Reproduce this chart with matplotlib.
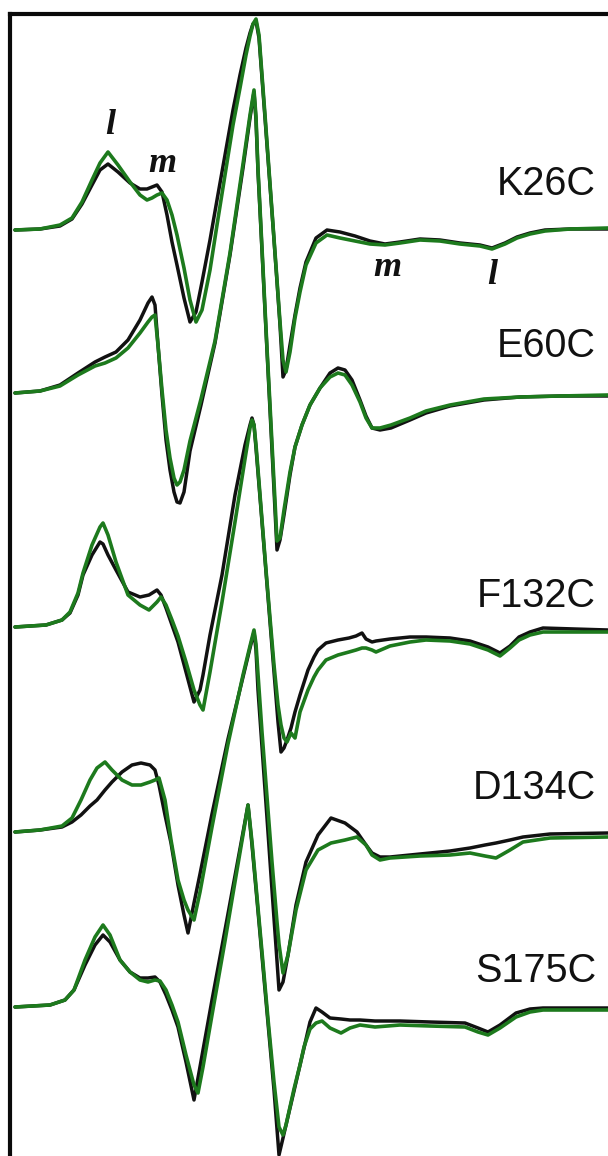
import matplotlib
matplotlib.use("Agg")
import matplotlib.pyplot as plt

# EPR spectra of spin-labelled cysteine mutants (first-derivative, a.u.)
# black = reference condition, green = second condition

K26C_FIELD = [3303.0, 3308.0, 3312.0, 3314.4, 3316.4, 3318.4, 3320.0, 3321.6, 3323.6, 3326.0,
              3328.0, 3329.4, 3330.4, 3331.4, 3332.4, 3333.4, 3334.4, 3335.4, 3336.8, 3338.0,
              3339.2, 3340.4, 3342.0, 3343.4, 3345.0, 3346.6, 3348.0, 3349.2, 3350.0, 3350.6,
              3351.2, 3351.8, 3352.4, 3353.0, 3353.8, 3354.6, 3355.4, 3356.0, 3356.6, 3357.2,
              3358.0, 3359.0, 3360.0, 3361.2, 3363.2, 3365.4, 3368.0, 3371.0, 3374.0, 3377.0,
              3380.0, 3384.0, 3388.0, 3392.0, 3396.0, 3398.4, 3401.0, 3403.4, 3406.0, 3409.0,
              3414.0, 3421.6]
K26C_BLACK = [0, 1, 4, 11, 26, 45, 60, 66, 58, 47,
              41, 41, 43, 45, 38, 15, -12, -35, -68, -92,
              -82, -52, -10, 30, 75, 120, 155, 182, 197, 206,
              209, 192, 152, 112, 58, 4, -52, -95, -147, -140,
              -115, -85, -58, -32, -8, 0, -2, -6, -11, -14,
              -12, -9, -10, -13, -15, -18, -13, -7, -3, 0,
              1, 1]
K26C_GREEN = [0, 1, 5, 12, 28, 50, 67, 78, 65, 48,
              35, 30, 32, 35, 37, 30, 15, -5, -38, -70,
              -92, -80, -40, 5, 55, 105, 142, 175, 194, 206,
              211, 195, 155, 115, 60, 5, -50, -92, -130, -142,
              -122, -88, -62, -35, -13, -5, -8, -11, -14, -15,
              -13, -10, -11, -14, -16, -19, -14, -8, -4, -1,
              1, 2]

E60C_FIELD = [3303.0, 3308.0, 3312.0, 3315.6, 3319.0, 3321.0, 3323.2, 3325.6, 3328.0, 3329.6,
              3330.4, 3331.0, 3331.6, 3332.4, 3333.2, 3334.0, 3334.8, 3335.4, 3336.0, 3336.8,
              3338.0, 3340.2, 3343.0, 3346.0, 3348.6, 3350.0, 3350.8, 3351.2, 3351.6, 3352.0,
              3352.4, 3352.8, 3353.4, 3354.0, 3354.6, 3355.0, 3355.4, 3356.0, 3356.8, 3358.0,
              3359.0, 3360.4, 3362.0, 3364.0, 3366.0, 3367.6, 3369.0, 3370.4, 3372.0, 3373.2,
              3374.4, 3376.0, 3378.2, 3382.0, 3385.2, 3390.0, 3396.8, 3404.0, 3412.0, 3421.6]
E60C_BLACK = [0, 2, 8, 20, 31, 36, 41, 53, 73, 90,
              96, 88, 48, -2, -47, -77, -99, -109, -110, -99,
              -58, -12, 50, 138, 225, 275, 301, 273, 221, 182,
              142, 102, 42, -17, -77, -117, -157, -147, -122, -82,
              -54, -32, -12, 5, 20, 25, 23, 13, -7, -23,
              -35, -37, -35, -27, -20, -13, -7, -4, -3, -3]
E60C_GREEN = [0, 2, 7, 18, 27, 30, 35, 45, 60, 71,
              76, 78, 48, 3, -37, -65, -85, -92, -89, -77,
              -48, -6, 52, 140, 229, 278, 303, 276, 224, 185,
              145, 105, 45, -12, -70, -108, -148, -145, -117, -79,
              -54, -32, -12, 5, 16, 20, 18, 8, -9, -25,
              -35, -35, -32, -25, -18, -12, -6, -4, -3, -2]

F132C_FIELD = [3303.0, 3309.2, 3312.4, 3314.0, 3315.6, 3316.6, 3318.4, 3320.0, 3320.6, 3321.6,
               3323.2, 3325.6, 3328.0, 3329.8, 3331.4, 3332.2, 3333.2, 3334.4, 3335.6, 3337.2,
               3338.8, 3340.0, 3340.6, 3342.0, 3344.4, 3347.0, 3349.0, 3350.0, 3350.4, 3350.8,
               3351.2, 3351.8, 3352.4, 3353.2, 3354.0, 3354.8, 3355.6, 3356.2, 3356.8, 3357.4,
               3358.2, 3359.0, 3360.0, 3361.6, 3362.8, 3363.6, 3365.2, 3367.6, 3369.8, 3371.2,
               3372.4, 3373.2, 3374.4, 3375.2, 3378.0, 3382.0, 3385.2, 3390.0, 3394.0, 3397.6,
               3400.0, 3402.0, 3403.8, 3406.0, 3408.6, 3415.0, 3421.6]
F132C_BLACK = [0, 2, 7, 14, 32, 52, 72, 85, 83, 72,
               57, 35, 30, 32, 37, 32, 19, 2, -15, -45,
               -75, -63, -48, -8, 52, 132, 182, 202, 209, 202,
               179, 142, 105, 55, 5, -45, -95, -125, -121, -113,
               -101, -85, -68, -43, -30, -23, -16, -13, -11, -9,
               -6, -12, -15, -14, -12, -10, -10, -11, -14, -20,
               -26, -19, -10, -5, -1, -2, -3]
F132C_GREEN = [0, 2, 7, 15, 34, 54, 82, 100, 104, 92,
               65, 32, 22, 17, 25, 30, 22, 7, -9, -35,
               -63, -78, -83, -45, 25, 105, 168, 199, 207, 202,
               182, 145, 107, 57, 9, -38, -78, -98, -111, -115,
               -106, -111, -85, -63, -50, -43, -33, -28, -25, -23,
               -21, -21, -23, -25, -19, -15, -13, -14, -17, -23,
               -29, -21, -13, -8, -5, -5, -5]

D134C_FIELD = [3303.0, 3308.0, 3312.4, 3314.4, 3316.2, 3318.0, 3319.4, 3321.0, 3322.4, 3324.4,
               3326.4, 3328.2, 3330.0, 3331.0, 3331.8, 3333.0, 3334.2, 3335.6, 3336.8, 3337.6,
               3338.8, 3340.0, 3342.4, 3345.6, 3348.6, 3350.0, 3350.8, 3351.2, 3351.6, 3352.4,
               3353.4, 3354.4, 3355.4, 3355.8, 3356.6, 3357.6, 3359.2, 3361.2, 3363.6, 3366.2,
               3369.0, 3371.4, 3373.2, 3374.4, 3376.0, 3378.0, 3384.0, 3390.0, 3394.0, 3397.0,
               3399.2, 3402.0, 3404.6, 3410.0, 3421.6]
D134C_BLACK = [0, 2, 5, 10, 17, 26, 32, 42, 50, 60,
               67, 69, 67, 62, 47, 17, -11, -53, -83, -101,
               -71, -42, 18, 93, 155, 184, 200, 182, 142, 85,
               14, -58, -129, -158, -150, -123, -73, -30, -3, 14,
               9, 0, -13, -21, -25, -25, -22, -19, -16, -13,
               -11, -8, -5, -2, -1]
D134C_GREEN = [0, 2, 6, 14, 32, 52, 64, 70, 62, 52,
               47, 47, 50, 52, 54, 32, -8, -48, -68, -78,
               -88, -60, 5, 88, 157, 186, 202, 188, 158, 100,
               35, -30, -90, -112, -141, -123, -78, -38, -18, -11,
               -8, -5, -13, -23, -28, -26, -24, -23, -21, -24,
               -26, -18, -10, -6, -5]

S175C_FIELD = [3303.0, 3310.0, 3313.0, 3314.8, 3317.0, 3319.0, 3320.6, 3322.0, 3324.0, 3326.0,
               3328.0, 3329.6, 3331.0, 3332.0, 3333.2, 3334.4, 3335.6, 3337.2, 3338.8, 3339.6,
               3340.6, 3342.4, 3345.0, 3347.4, 3348.8, 3349.6, 3350.4, 3351.4, 3352.4, 3353.6,
               3354.8, 3355.8, 3356.6, 3357.2, 3358.0, 3358.8, 3360.0, 3360.8, 3362.0, 3363.2,
               3364.4, 3366.0, 3368.2, 3370.0, 3372.0, 3375.0, 3380.0, 3386.0, 3393.0, 3395.6,
               3397.6, 3400.0, 3403.2, 3406.0, 3408.6, 3415.0, 3421.6]
S175C_BLACK = [0, 2, 7, 17, 42, 62, 72, 65, 47, 35,
               29, 29, 30, 25, 12, -3, -20, -55, -93, -71,
               -43, 7, 77, 142, 180, 202, 162, 107, 51, -16,
               -83, -148, -131, -118, -101, -84, -58, -41, -15, -1,
               -5, -11, -12, -13, -13, -14, -14, -15, -16, -21,
               -25, -18, -6, -2, -1, -1, -1]
S175C_GREEN = [0, 2, 7, 17, 47, 70, 82, 72, 47, 35,
               27, 25, 27, 26, 17, 2, -15, -48, -78, -86,
               -60, -8, 66, 137, 178, 202, 165, 110, 55, -12,
               -75, -120, -128, -118, -100, -82, -58, -40, -22, -16,
               -14, -21, -26, -21, -18, -20, -18, -19, -20, -25,
               -28, -21, -10, -5, -3, -3, -3]

MUTANTS = ["K26C", "E60C", "F132C", "D134C", "S175C"]
FIELDS = [K26C_FIELD, E60C_FIELD, F132C_FIELD, D134C_FIELD, S175C_FIELD]
BLACK = [K26C_BLACK, E60C_BLACK, F132C_BLACK, D134C_BLACK, S175C_BLACK]
GREEN = [K26C_GREEN, E60C_GREEN, F132C_GREEN, D134C_GREEN, S175C_GREEN]

# vertical stacking of the traces and placement of their names
OFFSETS = [926, 763, 529, 324, 149]
NAME_RISE = [46, 47, 31, 44, 36]
NAME_FIELD = 3419.2

# hyperfine component markers (immobile l / mobile m)
MARKS = [("l", 3322.0, 1030), ("m", 3332.4, 992), ("m", 3377.4, 889), ("l", 3398.4, 881)]

W, H, DPI = 608, 1156, 100
fig = plt.figure(figsize=(W / DPI, H / DPI), dpi=DPI)
ax = fig.add_axes([10 / W, 0, 1 - 10 / W, 1 - 14 / H])
ax.set_xlim(3302.0, 3421.6)
ax.set_ylim(0, 1142)

for spine in ("right", "bottom"):
    ax.spines[spine].set_visible(False)
for spine in ("left", "top"):
    ax.spines[spine].set_linewidth(3.0)
    ax.spines[spine].set_color("#0a0a0a")
ax.set_xticks([])
ax.set_yticks([])

black_col = "#111111"
green_col = "#1d7a1d"

for name, fld, blk, grn, off, rise in zip(MUTANTS, FIELDS, BLACK, GREEN, OFFSETS, NAME_RISE):
    ax.plot(fld, [off + v for v in blk], color=black_col, lw=2.5,
            solid_joinstyle="round", solid_capstyle="round", zorder=2)
    ax.plot(fld, [off + v for v in grn], color=green_col, lw=2.6,
            solid_joinstyle="round", solid_capstyle="round", zorder=3)
    ax.text(NAME_FIELD, off + rise, name, ha="right", va="center",
            fontsize=28.5, family="Liberation Sans", color="#111111")

for letter, fx, fy in MARKS:
    ax.text(fx, fy, letter, ha="center", va="center", fontsize=26,
            family="Liberation Serif", style="italic", weight="bold", color="#111111")

fig.savefig("out.png", dpi=DPI)
